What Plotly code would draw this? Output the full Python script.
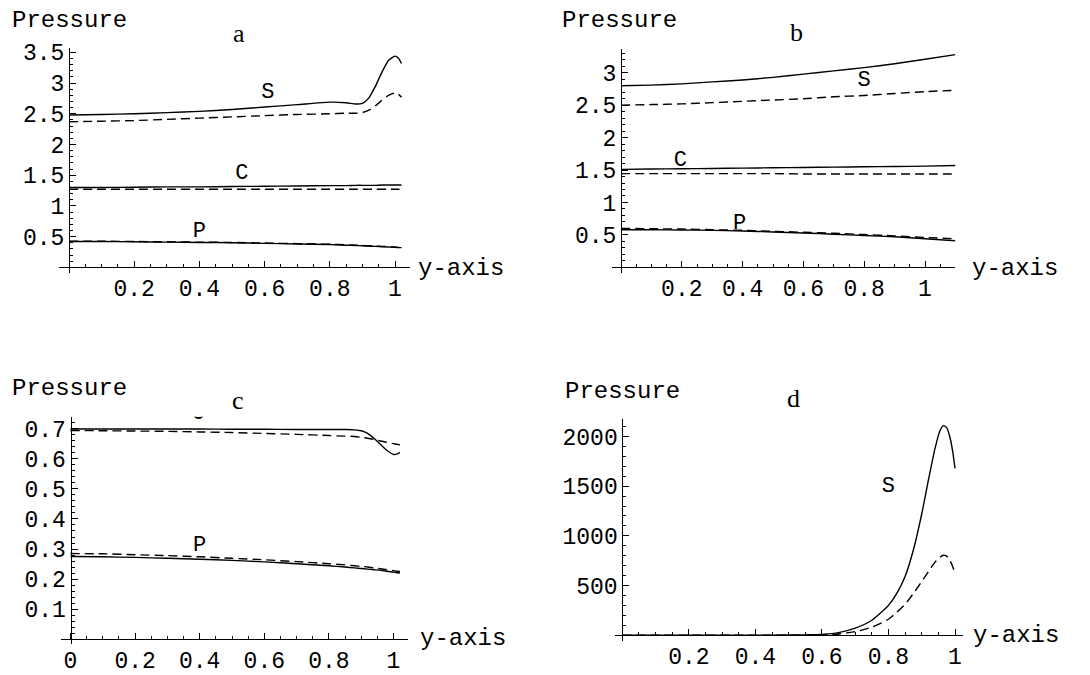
import plotly.graph_objects as go

W, H = 1090, 675

# ---------------- data ----------------
# panel a
x_a = [0, 0.1, 0.2, 0.3, 0.4, 0.5, 0.6, 0.7, 0.8, 0.85, 0.88, 0.9, 0.92, 0.94, 0.96, 0.98, 1.0, 1.01, 1.02]
S_a_solid = [2.48, 2.49, 2.50, 2.52, 2.54, 2.57, 2.61, 2.65, 2.69, 2.68, 2.66, 2.67, 2.76, 2.95, 3.18, 3.37, 3.44, 3.41, 3.32]
S_a_dash = [2.37, 2.38, 2.39, 2.41, 2.43, 2.45, 2.47, 2.49, 2.50, 2.51, 2.51, 2.52, 2.56, 2.63, 2.72, 2.80, 2.84, 2.82, 2.77]
C_a_solid = [1.30, 1.30, 1.305, 1.31, 1.31, 1.315, 1.32, 1.325, 1.33, 1.33, 1.335, 1.335, 1.335, 1.335, 1.34, 1.34, 1.34, 1.34, 1.34]
C_a_dash = [1.27, 1.27, 1.27, 1.27, 1.27, 1.27, 1.27, 1.27, 1.27, 1.27, 1.27, 1.27, 1.27, 1.27, 1.27, 1.27, 1.27, 1.27, 1.27]
P_a_solid = [0.42, 0.42, 0.415, 0.41, 0.405, 0.40, 0.39, 0.38, 0.37, 0.36, 0.355, 0.35, 0.345, 0.34, 0.335, 0.33, 0.325, 0.32, 0.32]
P_a_dash = [0.425, 0.425, 0.42, 0.415, 0.41, 0.405, 0.395, 0.385, 0.375, 0.365, 0.36, 0.355, 0.35, 0.345, 0.34, 0.335, 0.33, 0.325, 0.325]

# panel b
x_b = [0, 0.1, 0.2, 0.3, 0.4, 0.5, 0.6, 0.7, 0.8, 0.9, 1.0, 1.1]
S_b_solid = [2.80, 2.81, 2.83, 2.86, 2.89, 2.93, 2.98, 3.03, 3.08, 3.14, 3.21, 3.28]
S_b_dash = [2.50, 2.51, 2.52, 2.54, 2.56, 2.58, 2.60, 2.63, 2.65, 2.68, 2.71, 2.73]
C_b_solid = [1.51, 1.515, 1.52, 1.525, 1.53, 1.535, 1.54, 1.545, 1.55, 1.555, 1.56, 1.57]
C_b_dash = [1.445, 1.445, 1.445, 1.445, 1.445, 1.445, 1.44, 1.44, 1.44, 1.44, 1.44, 1.44]
P_b_solid = [0.58, 0.58, 0.575, 0.57, 0.56, 0.545, 0.53, 0.51, 0.49, 0.47, 0.44, 0.41]
P_b_dash = [0.60, 0.595, 0.59, 0.58, 0.57, 0.555, 0.54, 0.525, 0.505, 0.485, 0.46, 0.44]

# panel c
x_c = [0, 0.1, 0.2, 0.3, 0.4, 0.5, 0.6, 0.7, 0.8, 0.85, 0.88, 0.9, 0.92, 0.94, 0.96, 0.98, 1.0, 1.01, 1.02]
C_c_solid = [0.700, 0.700, 0.700, 0.700, 0.700, 0.699, 0.699, 0.698, 0.698, 0.698, 0.697, 0.694, 0.685, 0.668, 0.648, 0.628, 0.615, 0.616, 0.622]
C_c_dash = [0.695, 0.694, 0.693, 0.692, 0.690, 0.688, 0.685, 0.682, 0.678, 0.676, 0.675, 0.672, 0.669, 0.665, 0.660, 0.655, 0.651, 0.649, 0.647]
P_c_solid = [0.275, 0.274, 0.272, 0.269, 0.266, 0.262, 0.257, 0.251, 0.244, 0.240, 0.237, 0.235, 0.233, 0.231, 0.229, 0.226, 0.223, 0.221, 0.220]
P_c_dash = [0.285, 0.284, 0.281, 0.278, 0.274, 0.269, 0.264, 0.258, 0.251, 0.247, 0.244, 0.242, 0.240, 0.237, 0.234, 0.231, 0.228, 0.226, 0.225]

# panel d
x_d = [0, 0.2, 0.4, 0.5, 0.55, 0.6, 0.65, 0.7, 0.75, 0.8, 0.825, 0.85, 0.875, 0.9, 0.92, 0.94, 0.955, 0.965, 0.975, 0.985, 0.993, 1.0]
S_d_solid = [0, 0, 0, 1, 3, 8, 25, 70, 150, 300, 420, 590, 860, 1220, 1560, 1880, 2060, 2110, 2090, 1990, 1850, 1680]
S_d_dash = [0, 0, 0, 0, 0, 2, 12, 35, 80, 160, 230, 310, 420, 540, 640, 735, 785, 805, 795, 750, 690, 620]

# tick values / labels
xt_abd = [0.2, 0.4, 0.6, 0.8, 1]
xt_abd_txt = ["0.2", "0.4", "0.6", "0.8", "1"]
xt_c = [0, 0.2, 0.4, 0.6, 0.8, 1]
xt_c_txt = ["0", "0.2", "0.4", "0.6", "0.8", "1"]
yt_a = [0.5, 1, 1.5, 2, 2.5, 3, 3.5]
yt_a_txt = ["0.5", "1", "1.5", "2", "2.5", "3", "3.5"]
yt_b = [0.5, 1, 1.5, 2, 2.5, 3]
yt_b_txt = ["0.5", "1", "1.5", "2", "2.5", "3"]
yt_c = [0.1, 0.2, 0.3, 0.4, 0.5, 0.6, 0.7]
yt_c_txt = ["0.1", "0.2", "0.3", "0.4", "0.5", "0.6", "0.7"]
yt_d = [500, 1000, 1500, 2000]
yt_d_txt = ["500", "1000", "1500", "2000"]

# curve labels: (text, x, y)
labels_a = [("S", 0.61, 2.84), ("C", 0.53, 1.52), ("P", 0.40, 0.58)]
labels_b = [("S", 0.80, 2.88), ("C", 0.195, 1.65), ("P", 0.39, 0.67)]
labels_c = [("C", 0.395, 0.750), ("P", 0.40, 0.31)]
labels_d = [("S", 0.80, 1500)]

panel_titles = ["a", "b", "c", "d"]

# ---------------- layout geometry (page pixels) ----------------
geom = {
    1: dict(ox=69, oy=265, sx=326, sy=62.5, xr=[-0.03, 1.045], yr=[-0.09, 3.57]),
    2: dict(ox=621, oy=265, sx=304, sy=66, xr=[-0.03, 1.1], yr=[-0.09, 3.37]),
    3: dict(ox=70.5, oy=643.5, sx=323, sy=305.6, xr=[-0.03, 1.045], yr=[-0.015, 0.741]),
    4: dict(ox=622.3, oy=639.5, sx=332.7, sy=0.1011, xr=[-0.022, 1.025], yr=[-55, 2178]),
}

MONO = "Liberation Mono, Courier New, monospace"
SERIF = "Liberation Serif, Times New Roman, serif"

fig = go.Figure()


def add_line(k, x, y, dash):
    fig.add_trace(go.Scatter(
        x=x, y=y, mode="lines", xaxis=f"x{k}", yaxis=f"y{k}",
        line=dict(color="black", width=1.4, dash=dash, shape="spline", smoothing=0.6),
        showlegend=False, hoverinfo="skip"))


def add_labels(k, labs):
    fig.add_trace(go.Scatter(
        x=[l[1] for l in labs], y=[l[2] for l in labs], text=[l[0] for l in labs],
        mode="text", textposition="middle center", xaxis=f"x{k}", yaxis=f"y{k}",
        textfont=dict(family=MONO, size=22, color="black"),
        cliponaxis=True, showlegend=False, hoverinfo="skip"))


DASH = "9px,5px"
add_line(1, x_a, S_a_solid, "solid")
add_line(1, x_a, S_a_dash, DASH)
add_line(1, x_a, C_a_solid, "solid")
add_line(1, x_a, C_a_dash, DASH)
add_line(1, x_a, P_a_dash, DASH)
add_line(1, x_a, P_a_solid, "solid")
add_labels(1, labels_a)

add_line(2, x_b, S_b_solid, "solid")
add_line(2, x_b, S_b_dash, DASH)
add_line(2, x_b, C_b_solid, "solid")
add_line(2, x_b, C_b_dash, DASH)
add_line(2, x_b, P_b_dash, DASH)
add_line(2, x_b, P_b_solid, "solid")
add_labels(2, labels_b)

add_line(3, x_c, C_c_solid, "solid")
add_line(3, x_c, C_c_dash, DASH)
add_line(3, x_c, P_c_dash, DASH)
add_line(3, x_c, P_c_solid, "solid")
add_labels(3, labels_c)

add_line(4, x_d, S_d_solid, "solid")
add_line(4, x_d, S_d_dash, DASH)
add_labels(4, labels_d)

ticks = {
    1: (xt_abd, xt_abd_txt, yt_a, yt_a_txt, 0.1),
    2: (xt_abd, xt_abd_txt, yt_b, yt_b_txt, 0.1),
    3: (xt_c, xt_c_txt, yt_c, yt_c_txt, 0.02),
    4: (xt_abd, xt_abd_txt, yt_d, yt_d_txt, 100),
}

TICKFONT = dict(family=MONO, size=23, color="black")
lay = {}
for k, g in geom.items():
    ox, oy, sx, sy = g["ox"], g["oy"], g["sx"], g["sy"]
    xr, yr = g["xr"], g["yr"]
    xdom = [(ox + xr[0] * sx) / W, (ox + xr[1] * sx) / W]
    ydom = [1 - (oy - yr[0] * sy) / H, 1 - (oy - yr[1] * sy) / H]
    xtv, xtt, ytv, ytt, ymin = ticks[k]
    sfx = "" if k == 1 else str(k)
    lay[f"xaxis{sfx}"] = dict(
        domain=xdom, range=xr, anchor="free", position=1 - oy / H,
        showline=True, linecolor="black", linewidth=1,
        showgrid=False, zeroline=False,
        tickmode="array", tickvals=xtv, ticktext=xtt,
        ticks="inside", ticklen=6, tickwidth=1, tickcolor="black",
        minor=dict(tickmode="linear", tick0=0, dtick=0.05, ticks="inside", ticklen=3,
                   tickwidth=1, tickcolor="black", showgrid=False),
        tickfont=TICKFONT, fixedrange=True)
    lay[f"yaxis{sfx}"] = dict(
        domain=ydom, range=yr, anchor="free", position=ox / W,
        showline=True, linecolor="black", linewidth=1,
        showgrid=False, zeroline=False,
        tickmode="array", tickvals=ytv, ticktext=ytt,
        ticks="inside", ticklen=6, tickwidth=1, tickcolor="black",
        minor=dict(tickmode="linear", tick0=0, dtick=ymin, ticks="inside", ticklen=3,
                   tickwidth=1, tickcolor="black", showgrid=False),
        tickfont=TICKFONT, fixedrange=True)

annotations = []
pressure_pos = [(10, 14), (560, 14), (10, 388), (563, 391)]
title_pos = [(239, 27), (796, 26), (238, 401), (793, 399)]
yaxis_lbl_pos = [(416, 266), (970, 266), (418, 643), (971, 640)]
for i in range(4):
    px, py = pressure_pos[i]
    annotations.append(dict(text="Pressure", x=px / W, y=1 - py / H, xref="paper", yref="paper",
                            xanchor="left", yanchor="middle", showarrow=False,
                            font=dict(family=MONO, size=24, color="black")))
    tx, ty = title_pos[i]
    annotations.append(dict(text=panel_titles[i], x=tx / W, y=1 - ty / H, xref="paper", yref="paper",
                            xanchor="center", yanchor="middle", showarrow=False,
                            font=dict(family=SERIF, size=26, color="black")))
    yx, yy = yaxis_lbl_pos[i]
    annotations.append(dict(text="y-axis", x=yx / W, y=1 - yy / H, xref="paper", yref="paper",
                            xanchor="left", yanchor="middle", showarrow=False,
                            font=dict(family=MONO, size=24, color="black")))

fig.update_layout(
    width=W, height=H, margin=dict(l=0, r=0, t=0, b=0),
    paper_bgcolor="white", plot_bgcolor="white",
    showlegend=False, annotations=annotations, **lay)

fig.write_html("out.html", config={"displayModeBar": False},
               post_script="document.body.style.margin='0';document.body.style.overflow='hidden';")
